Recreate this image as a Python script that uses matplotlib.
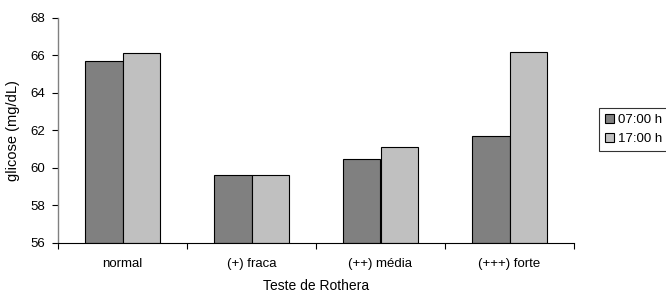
import numpy as np
import matplotlib.pyplot as plt

categories = ["normal", "(+) fraca", "(++) média", "(+++) forte"]
manha = [65.7, 59.6, 60.5, 61.7]
tarde = [66.15, 59.6, 61.1, 66.2]
series_labels = ["07:00 h", "17:00 h"]

plt.rcParams["font.family"] = ["Liberation Sans", "DejaVu Sans"]
plt.rcParams["font.size"] = 9.5

fig = plt.figure(figsize=(6.66, 2.93), dpi=100)
ax = fig.add_axes([58 / 666, 50 / 293, 516 / 666, 225 / 293])

x = np.arange(len(categories))
w = 0.287
ax.bar(x - w / 2, np.array(manha) - 56, w, bottom=56, color="#808080",
       edgecolor="#000000", linewidth=0.8, label=series_labels[0])
ax.bar(x + w / 2, np.array(tarde) - 56, w, bottom=56, color="#c0c0c0",
       edgecolor="#000000", linewidth=0.8, label=series_labels[1])

ax.set_xlim(-0.5, len(categories) - 0.5)
ax.set_ylim(56, 68)
ax.set_yticks(np.arange(56, 69, 2))

# category boundaries carry the tick marks, labels sit in between
ax.set_xticks(np.arange(-0.5, len(categories), 1))
ax.set_xticklabels([])
ax.set_xticks(x, minor=True)
ax.set_xticklabels(categories, minor=True)
ax.tick_params(axis="x", which="minor", length=0, pad=11)
ax.tick_params(axis="x", which="major", length=4, width=0.8, direction="out")
ax.tick_params(axis="y", length=4, width=0.8, pad=5)

for s in ["top", "right"]:
    ax.spines[s].set_visible(False)
ax.spines["left"].set_color("#808080")
ax.spines["left"].set_linewidth(1)
ax.spines["bottom"].set_linewidth(0.8)

ax.set_xlabel("Teste de Rothera", labelpad=6, fontsize=10)
ax.set_ylabel("glicose (mg/dL)", labelpad=8, fontsize=10.5)

leg = fig.legend(loc="upper left", bbox_to_anchor=(599 / 666, 1 - 108 / 293),
                 frameon=True, fancybox=False, handlelength=0.7, handleheight=0.7,
                 handletextpad=0.3, borderpad=0.45, labelspacing=0.5,
                 borderaxespad=0)
leg.get_frame().set_edgecolor("#000000")
leg.get_frame().set_linewidth(0.8)

fig.savefig("out.png", dpi=100)
